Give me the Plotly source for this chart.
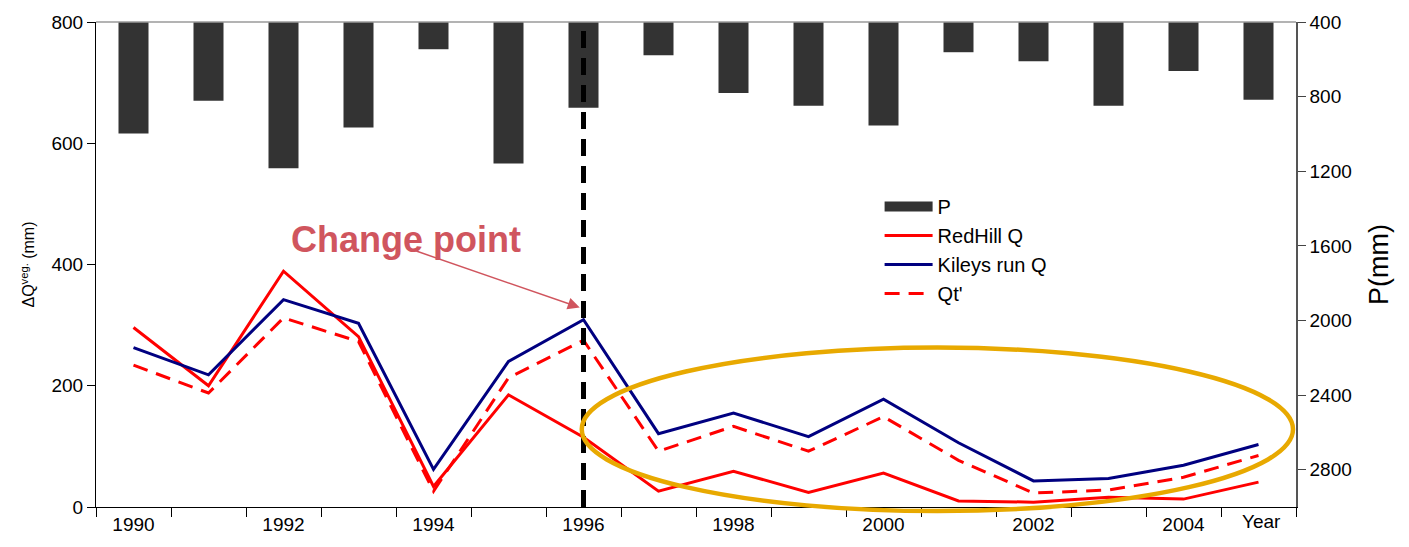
import plotly.graph_objects as go

years = list(range(1990, 2006))
rain_P = [998, 822, 1184, 966, 546, 1158, 860, 578, 780, 849, 955, 562, 610, 849, 663, 817]
redhill_Q = [296, 200, 389, 281, 34, 185, 115, 26, 59, 24, 56, 10, 8, 16, 13, 41]
kileys_Q = [263, 218, 342, 303, 62, 240, 309, 121, 155, 116, 178, 106, 43, 47, 69, 103]
qt_prime = [234, 188, 312, 273, 26, 213, 275, 92, 133, 92, 149, 77, 23, 28, 49, 85]
x_tick_vals = [1990, 1992, 1994, 1996, 1998, 2000, 2002, 2004]
left_ticks = [0, 200, 400, 600, 800]
right_ticks = [400, 800, 1200, 1600, 2000, 2400, 2800]
P_BASE = 400
change_year = 1996

FONT = "Liberation Sans, Arial, sans-serif"

fig = go.Figure()

fig.add_trace(go.Bar(
    x=years, y=[p - P_BASE for p in rain_P], base=P_BASE, name="P",
    marker=dict(color="#333333", line=dict(width=0)), width=0.4,
    yaxis="y2", legendgroup="P", showlegend=False,
))
# legend entry for P drawn as a wide block like the original
fig.add_trace(go.Scatter(
    x=[None], y=[None], name="P", mode="lines", legendgroup="P",
    line=dict(color="#333333", width=15),
))
fig.add_trace(go.Scatter(
    x=years, y=redhill_Q, name="RedHill Q", mode="lines",
    line=dict(color="#FF0000", width=3),
))
fig.add_trace(go.Scatter(
    x=years, y=kileys_Q, name="Kileys run Q", mode="lines",
    line=dict(color="#000080", width=3),
))
fig.add_trace(go.Scatter(
    x=years, y=qt_prime, name="Qt'", mode="lines",
    line=dict(color="#FF0000", width=3, dash="15px,9px"),
))

# vertical change-point line
fig.add_shape(type="line", xref="x", yref="paper", x0=change_year, x1=change_year,
              y0=0, y1=1, line=dict(color="black", width=5, dash="17px,10px"), layer="above")

# top border line
fig.add_shape(type="line", xref="paper", yref="paper", x0=0, x1=1, y0=1, y1=1,
              line=dict(color="#9a9a9a", width=1.5))

# highlighting ellipse
fig.add_shape(type="circle", xref="paper", yref="paper",
              x0=0.4048, x1=0.9975, y0=-0.0085, y1=0.3288,
              line=dict(color="#E8A900", width=4.5), layer="above")

fig.add_annotation(x=1993.63, y=441, xref="x", yref="y", text="<b>Change point</b>",
                   showarrow=False, font=dict(family=FONT, size=36, color="#D0555E"))
fig.add_annotation(x=1995.95, y=329, xref="x", yref="y", ax=-165, ay=-57,
                   text="", showarrow=True, arrowhead=2, arrowsize=1.6, arrowwidth=1.5,
                   arrowcolor="#D0555E")

fig.add_annotation(x=(1262 - 96.5) / 1199.5, y=-15 / 489, xref="paper", yref="paper",
                   text="Year", showarrow=False, xanchor="center", yanchor="middle",
                   font=dict(family=FONT, size=19, color="black"))

fig.update_layout(
    width=1409, height=547,
    margin=dict(l=96, r=113, t=18, b=39),
    paper_bgcolor="white", plot_bgcolor="white",
    font=dict(family=FONT, size=19, color="black"),
    showlegend=True,
    legend=dict(x=0.653, y=0.66, xanchor="left", yanchor="top",
                bgcolor="rgba(0,0,0,0)", font=dict(family=FONT, size=20),
                itemwidth=48, tracegroupgap=0),
    xaxis=dict(range=[1989.5, 2005.5], tickvals=x_tick_vals,
               ticktext=[str(v) for v in x_tick_vals], ticks="",
               showline=True, linecolor="black", linewidth=1, showgrid=False,
               zeroline=False, tickfont=dict(size=19),
               minor=dict(tick0=1989.5, dtick=1, ticks="outside", ticklen=9,
                          tickcolor="black", showgrid=False)),
    yaxis=dict(range=[0, 800], tickvals=left_ticks, ticks="outside", ticklen=8,
               tickcolor="black", showline=True, linecolor="black", linewidth=1,
               showgrid=False, zeroline=False, tickfont=dict(size=19),
               title=dict(text="ΔQ<sup>veg.</sup> (mm)", font=dict(size=16), standoff=12)),
    yaxis2=dict(range=[3000, 400], overlaying="y", side="right", tickvals=right_ticks,
                ticks="outside", ticklen=8, tickcolor="#444", showline=True,
                linecolor="#555", linewidth=1.5, showgrid=False, zeroline=False,
                tickfont=dict(size=19),
                title=dict(text="P(mm)", font=dict(size=27), standoff=18)),
    bargap=0.6,
)

fig.write_html("out.html")
